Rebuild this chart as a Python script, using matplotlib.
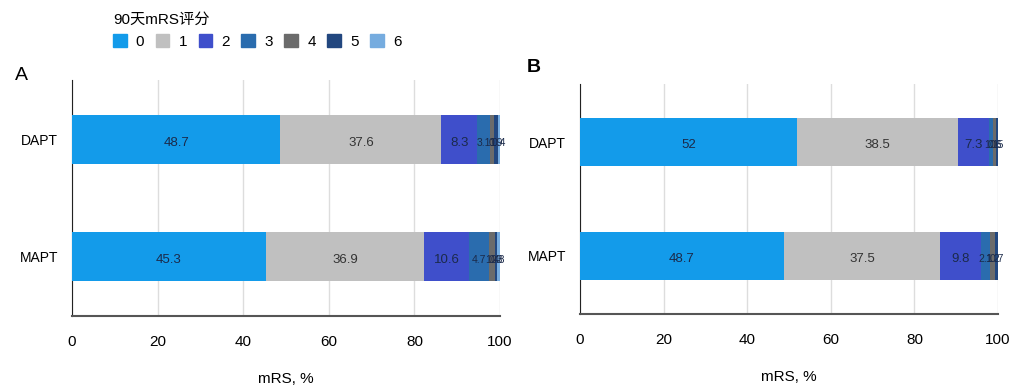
import matplotlib.pyplot as plt
from matplotlib.patches import Patch

plt.rcParams['font.family'] = ['Liberation Sans', 'Noto Sans CJK SC', 'DejaVu Sans']

groups = ['DAPT', 'MAPT']
scores = ['0', '1', '2', '3', '4', '5', '6']
colors = ['#139BEA', '#C0C0C0', '#3F4FCB', '#2A6CAE', '#6B6B6B', '#22477F', '#76ACDF']

# percent per mRS score, [DAPT, MAPT]
panel_a = [
    [48.7, 45.3],
    [37.6, 36.9],
    [8.3, 10.6],
    [3.1, 4.7],
    [1.0, 1.4],
    [0.9, 0.3],
    [0.4, 0.8],
]
panel_b = [
    [52, 48.7],
    [38.5, 37.5],
    [7.3, 9.8],
    [1.1, 2.1],
    [0.6, 1.2],
    [0.5, 0.7],
    [0, 0],
]

fig = plt.figure(figsize=(10.24, 3.91), dpi=100)
W, H = 1024, 391


def draw(ax, data):
    left = [0, 0]
    for i, vals in enumerate(data):
        ax.barh(range(len(groups)), vals, left=left, height=0.42,
                color=colors[i], zorder=3)
        for j, v in enumerate(vals):
            if v > 0:
                tc = '#333333' if i == 1 else '#1b2a4a'
                fs = 9.5 if v >= 5 else 7.5
                ax.text(left[j] + v / 2, j + 0.03, f'{v:g}', ha='center',
                        va='center', fontsize=fs, color=tc, zorder=4)
        left = [l + v for l, v in zip(left, vals)]
    ax.set_xlim(0, 100)
    ax.set_ylim(1.51, -0.51)
    ax.set_yticks(range(len(groups)))
    ax.set_yticklabels(groups, fontsize=10)
    ax.set_xticks([0, 20, 40, 60, 80, 100])
    ax.tick_params(axis='x', length=0, pad=14, labelsize=11)
    ax.tick_params(axis='y', length=0, pad=10)
    ax.grid(axis='x', color='#dddddd', lw=1, zorder=0)
    for s in ['top', 'right']:
        ax.spines[s].set_visible(False)
    ax.spines['left'].set_color('#222222')
    ax.spines['bottom'].set_color('#555555')
    ax.spines['bottom'].set_linewidth(1.5)
    ax.set_xlabel('mRS, %', fontsize=11, labelpad=16)


ax1 = fig.add_axes([72 / W, 1 - 316 / H, 428 / W, 236 / H])
draw(ax1, panel_a)
ax2 = fig.add_axes([580 / W, 1 - 314 / H, 418 / W, 230 / H])
draw(ax2, panel_b)

fig.text(15 / W, 1 - 75 / H, 'A', fontsize=14, va='center')
fig.text(527 / W, 1 - 68 / H, 'B', fontsize=14, va='center', fontweight='bold')

handles = [Patch(color=c, label=s) for c, s in zip(colors, scores)]
leg = fig.legend(handles=handles, ncol=7, loc='upper left',
                 bbox_to_anchor=(99 / W, 1 + 1 / H), frameon=False,
                 title='90天mRS评分', fontsize=11, title_fontsize=11,
                 handlelength=0.9, handleheight=0.9, columnspacing=0.75,
                 handletextpad=0.6, alignment='left')

fig.savefig('out.png', dpi=100)
